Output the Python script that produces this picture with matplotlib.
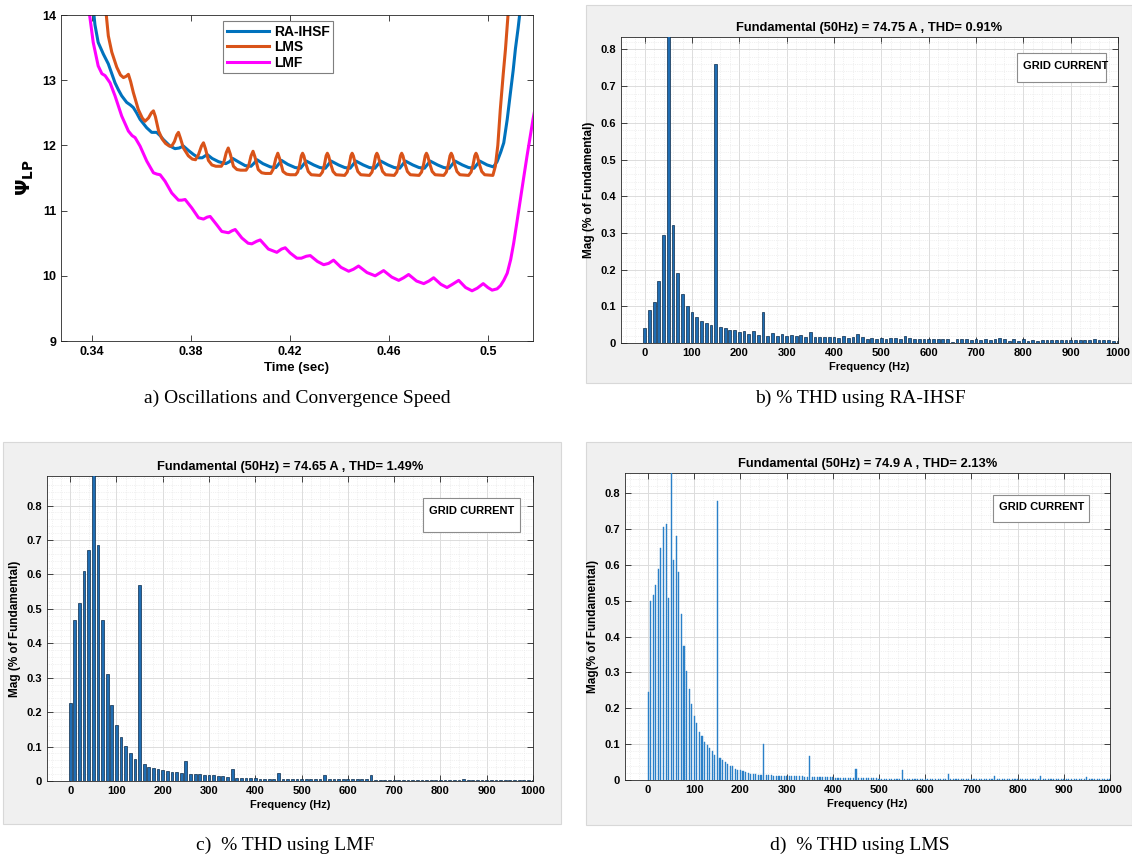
import numpy as np
import matplotlib

matplotlib.use("Agg")
import matplotlib.pyplot as plt
from matplotlib.patches import Rectangle
from matplotlib.ticker import MultipleLocator

plt.rcParams["font.family"] = ["Liberation Sans", "DejaVu Sans"]
plt.rcParams["mathtext.fontset"] = "dejavusans"

# ---- panel a: psi_LP vs time ----
RA_TIME = [0.3400, 0.3412, 0.3425, 0.3446, 0.3466, 0.3480, 0.3493, 0.3507, 0.3520, 0.3540,
           0.3555, 0.3567, 0.3580, 0.3594, 0.3621, 0.3641, 0.3661, 0.3675, 0.3688, 0.3715,
           0.3735, 0.3752, 0.3769, 0.3790, 0.3810, 0.3830, 0.3845, 0.3865, 0.3885, 0.3911,
           0.3940, 0.3955, 0.3968, 0.3990, 0.4018, 0.4042, 0.4055, 0.4066, 0.4090, 0.4120,
           0.4142, 0.4155, 0.4165, 0.4190, 0.4220,
           0.4242, 0.4265, 0.4295, 0.4320, 0.4342, 0.4365, 0.4395, 0.4420,
           0.4442, 0.4465, 0.4495, 0.4520, 0.4542, 0.4565, 0.4595, 0.4620,
           0.4642, 0.4665, 0.4695, 0.4720, 0.4742, 0.4765, 0.4795, 0.4820,
           0.4842, 0.4865, 0.4895, 0.4920, 0.4942, 0.4965, 0.4995, 0.5020,
           0.5035, 0.5050, 0.5062, 0.5076, 0.5089, 0.5100, 0.5109, 0.5120, 0.5135]
RA_PSI = [14.30, 13.85, 13.58, 13.40, 13.25, 13.10, 12.96, 12.85, 12.76, 12.66,
          12.62, 12.58, 12.50, 12.40, 12.27, 12.20, 12.20, 12.15, 12.09, 11.99,
          11.95, 11.96, 11.99, 11.92, 11.86, 11.81, 11.81, 11.86, 11.80, 11.75,
          11.72, 11.75, 11.80, 11.75, 11.69, 11.68, 11.73, 11.78, 11.72, 11.67,
          11.66, 11.72, 11.77, 11.71, 11.66,
          11.65, 11.76, 11.70, 11.66, 11.65, 11.76, 11.70, 11.66,
          11.65, 11.76, 11.70, 11.66, 11.65, 11.76, 11.70, 11.66,
          11.65, 11.76, 11.70, 11.66, 11.65, 11.76, 11.70, 11.66,
          11.65, 11.76, 11.70, 11.66, 11.65, 11.76, 11.70, 11.67,
          11.75, 11.90, 12.04, 12.40, 12.81, 13.15, 13.48, 13.80, 14.30]

LMS_TIME = [0.3450, 0.3466, 0.3480, 0.3500, 0.3515, 0.3527, 0.3538, 0.3547, 0.3556, 0.3567,
            0.3587, 0.3603, 0.3614, 0.3628, 0.3640, 0.3648, 0.3656, 0.3669, 0.3683, 0.3697,
            0.3712, 0.3722, 0.3733, 0.3742, 0.3749, 0.3757, 0.3769, 0.3789, 0.3805, 0.3818,
            0.3830, 0.3842, 0.3850, 0.3858, 0.3870, 0.3884, 0.3900, 0.3922, 0.3932, 0.3942,
            0.3950, 0.3958, 0.3971, 0.3985, 0.4000, 0.4022, 0.4032, 0.4042, 0.4050, 0.4058,
            0.4071, 0.4085, 0.4100, 0.4122, 0.4132, 0.4142, 0.4150, 0.4158, 0.4171, 0.4185,
            0.4200, 0.4222,
            0.4230, 0.4238, 0.4245, 0.4250, 0.4255, 0.4263, 0.4273, 0.4285, 0.4320,
            0.4330, 0.4338, 0.4345, 0.4350, 0.4355, 0.4363, 0.4373, 0.4385, 0.4420,
            0.4430, 0.4438, 0.4445, 0.4450, 0.4455, 0.4463, 0.4473, 0.4485, 0.4520,
            0.4530, 0.4538, 0.4545, 0.4550, 0.4555, 0.4563, 0.4573, 0.4585, 0.4620,
            0.4630, 0.4638, 0.4645, 0.4650, 0.4655, 0.4663, 0.4673, 0.4685, 0.4720,
            0.4730, 0.4738, 0.4745, 0.4750, 0.4755, 0.4763, 0.4773, 0.4785, 0.4820,
            0.4830, 0.4838, 0.4845, 0.4850, 0.4855, 0.4863, 0.4873, 0.4885, 0.4920,
            0.4930, 0.4938, 0.4945, 0.4950, 0.4955, 0.4963, 0.4973, 0.4985, 0.5018,
            0.5028, 0.5038, 0.5048, 0.5060, 0.5069, 0.5085]
LMS_PSI = [14.30, 13.68, 13.43, 13.20, 13.08, 13.04, 13.06, 13.09, 12.98, 12.81,
           12.55, 12.42, 12.37, 12.42, 12.50, 12.53, 12.44, 12.22, 12.10, 12.03,
           11.99, 11.99, 12.06, 12.16, 12.20, 12.11, 11.96, 11.84, 11.79, 11.78,
           11.86, 11.99, 12.04, 11.95, 11.77, 11.70, 11.68, 11.68, 11.74, 11.89,
           11.96, 11.87, 11.68, 11.63, 11.62, 11.62, 11.68, 11.84, 11.91, 11.82,
           11.63, 11.58, 11.57, 11.57, 11.64, 11.80, 11.88, 11.79, 11.60, 11.56,
           11.55, 11.55,
           11.59, 11.70, 11.84, 11.88, 11.84, 11.72, 11.60, 11.55, 11.54,
           11.59, 11.70, 11.84, 11.88, 11.84, 11.72, 11.60, 11.55, 11.54,
           11.59, 11.70, 11.84, 11.88, 11.84, 11.72, 11.60, 11.55, 11.54,
           11.59, 11.70, 11.84, 11.88, 11.84, 11.72, 11.60, 11.55, 11.54,
           11.59, 11.70, 11.84, 11.88, 11.84, 11.72, 11.60, 11.55, 11.54,
           11.59, 11.70, 11.84, 11.88, 11.84, 11.72, 11.60, 11.55, 11.54,
           11.59, 11.70, 11.84, 11.88, 11.84, 11.72, 11.60, 11.55, 11.54,
           11.59, 11.70, 11.84, 11.88, 11.84, 11.72, 11.60, 11.55, 11.54,
           11.68, 12.00, 12.55, 13.10, 13.48, 14.30]

LMF_TIME = [0.3380, 0.3405, 0.3425, 0.3440, 0.3453, 0.3473, 0.3493, 0.3520, 0.3547, 0.3562,
            0.3574, 0.3594, 0.3621, 0.3648, 0.3662, 0.3675, 0.3695, 0.3722, 0.3749, 0.3762,
            0.3776, 0.3803, 0.3830, 0.3850, 0.3865, 0.3877, 0.3904, 0.3924, 0.3951, 0.3965,
            0.3978, 0.4005, 0.4030, 0.4045, 0.4065, 0.4079, 0.4112, 0.4146, 0.4165, 0.4180,
            0.4200, 0.4227, 0.4245, 0.4265, 0.4281, 0.4310, 0.4335, 0.4355, 0.4375, 0.4405,
            0.4436, 0.4455, 0.4476, 0.4510, 0.4543, 0.4560, 0.4577, 0.4610, 0.4638, 0.4658,
            0.4678, 0.4710, 0.4739, 0.4760, 0.4779, 0.4808, 0.4833, 0.4855, 0.4880, 0.4908,
            0.4934, 0.4955, 0.4979, 0.4998, 0.5015, 0.5035, 0.5049, 0.5062, 0.5076, 0.5090,
            0.5102, 0.5115, 0.5129, 0.5143, 0.5156, 0.5168, 0.5180, 0.5195]
LMF_PSI = [14.30, 13.58, 13.22, 13.10, 13.07, 12.96, 12.76, 12.45, 12.22, 12.15,
           12.12, 11.99, 11.76, 11.58, 11.56, 11.55, 11.45, 11.27, 11.16, 11.16,
           11.17, 11.04, 10.89, 10.87, 10.90, 10.91, 10.78, 10.68, 10.66, 10.69,
           10.71, 10.58, 10.50, 10.49, 10.53, 10.55, 10.41, 10.36, 10.41, 10.43,
           10.35, 10.27, 10.27, 10.30, 10.31, 10.22, 10.17, 10.19, 10.24, 10.13,
           10.07, 10.10, 10.15, 10.05, 10.00, 10.04, 10.08, 9.98, 9.93, 9.97,
           10.02, 9.92, 9.88, 9.92, 9.97, 9.87, 9.82, 9.87, 9.93, 9.82,
           9.77, 9.81, 9.88, 9.82, 9.78, 9.80, 9.85, 9.93, 10.04, 10.25,
           10.50, 10.82, 11.17, 11.52, 11.84, 12.12, 12.40, 12.70]

# ---- panels b-d: harmonic spectra (% of fundamental), fundamental = 100 ----
FREQ_10HZ = np.arange(0, 1001, 10)
MAG_RA = [0.040, 0.090, 0.112, 0.170, 0.295, 100.0, 0.321, 0.190, 0.133, 0.100,
          0.084, 0.071, 0.061, 0.055, 0.048, 0.760, 0.044, 0.040, 0.036, 0.036,
          0.030, 0.034, 0.025, 0.033, 0.023, 0.084, 0.019, 0.028, 0.020, 0.025,
          0.018, 0.022, 0.019, 0.021, 0.016, 0.031, 0.016, 0.017, 0.016, 0.016,
          0.016, 0.014, 0.018, 0.014, 0.016, 0.024, 0.015, 0.012, 0.014, 0.012,
          0.014, 0.012, 0.013, 0.013, 0.012, 0.020, 0.013, 0.011, 0.011, 0.011,
          0.012, 0.011, 0.011, 0.011, 0.011, 0.002, 0.010, 0.010, 0.010, 0.009,
          0.011, 0.008, 0.010, 0.009, 0.011, 0.013, 0.010, 0.005, 0.010, 0.006,
          0.011, 0.005, 0.009, 0.006, 0.009, 0.009, 0.009, 0.008, 0.008, 0.008,
          0.008, 0.008, 0.008, 0.007, 0.007, 0.010, 0.007, 0.007, 0.007, 0.006,
          0.006]
MAG_LMF = [0.226, 0.467, 0.516, 0.611, 0.671, 100.0, 0.685, 0.467, 0.310, 0.220,
           0.163, 0.127, 0.101, 0.080, 0.064, 0.569, 0.050, 0.042, 0.039, 0.036,
           0.031, 0.030, 0.027, 0.027, 0.024, 0.058, 0.020, 0.020, 0.019, 0.018,
           0.016, 0.016, 0.015, 0.014, 0.012, 0.036, 0.010, 0.009, 0.009, 0.009,
           0.008, 0.007, 0.007, 0.007, 0.007, 0.022, 0.007, 0.006, 0.006, 0.006,
           0.005, 0.005, 0.005, 0.005, 0.005, 0.017, 0.005, 0.005, 0.005, 0.005,
           0.006, 0.005, 0.005, 0.005, 0.005, 0.017, 0.004, 0.004, 0.003, 0.003,
           0.003, 0.003, 0.003, 0.003, 0.003, 0.004, 0.003, 0.003, 0.003, 0.003,
           0.003, 0.003, 0.003, 0.003, 0.003, 0.006, 0.003, 0.003, 0.003, 0.003,
           0.003, 0.003, 0.003, 0.003, 0.003, 0.003, 0.003, 0.003, 0.003, 0.003,
           0.003]
FREQ_LMS = np.arange(181) * 50 / 9  # 0.18 s window -> 5.56 Hz bins
MAG_LMS = [0.246, 0.498, 0.516, 0.544, 0.588, 0.646, 0.705, 0.713, 0.507, 100.0,
           0.614, 0.679, 0.579, 0.463, 0.374, 0.303, 0.253, 0.212, 0.179, 0.158,
           0.135, 0.124, 0.107, 0.098, 0.089, 0.080, 0.071, 0.777, 0.062, 0.057,
           0.050, 0.045, 0.040, 0.038, 0.032, 0.029, 0.027, 0.024, 0.021, 0.019,
           0.018, 0.017, 0.016, 0.015, 0.014, 0.099, 0.013, 0.013, 0.013, 0.012,
           0.012, 0.012, 0.012, 0.011, 0.011, 0.011, 0.011, 0.010, 0.010, 0.010,
           0.010, 0.009, 0.009, 0.067, 0.009, 0.008, 0.008, 0.008, 0.008, 0.007,
           0.007, 0.007, 0.007, 0.006, 0.006, 0.006, 0.006, 0.006, 0.006, 0.005,
           0.005, 0.030, 0.005, 0.005, 0.005, 0.005, 0.005, 0.005, 0.005, 0.005,
           0.004, 0.004, 0.004, 0.004, 0.004, 0.004, 0.004, 0.004, 0.004, 0.027,
           0.004, 0.004, 0.004, 0.004, 0.004, 0.003, 0.003, 0.003, 0.003, 0.003,
           0.003, 0.003, 0.003, 0.003, 0.003, 0.003, 0.003, 0.018, 0.003, 0.003,
           0.003, 0.003, 0.003, 0.003, 0.003, 0.003, 0.002, 0.002, 0.002, 0.002,
           0.002, 0.002, 0.002, 0.002, 0.002, 0.012, 0.002, 0.002, 0.002, 0.002,
           0.002, 0.002, 0.002, 0.002, 0.002, 0.002, 0.002, 0.002, 0.002, 0.002,
           0.002, 0.002, 0.002, 0.012, 0.002, 0.002, 0.002, 0.002, 0.002, 0.002,
           0.002, 0.002, 0.002, 0.002, 0.002, 0.002, 0.002, 0.002, 0.002, 0.002,
           0.002, 0.007, 0.002, 0.002, 0.002, 0.002, 0.002, 0.002, 0.002, 0.002,
           0.002]

W, H = 1132, 859
SERIF = ["Liberation Serif", "DejaVu Serif"]


def px_axes(fig, x0, x1, y0, y1):
    return fig.add_axes([x0 / W, 1 - y1 / H, (x1 - x0) / W, (y1 - y0) / H])


def gray_panel(fig, x0, x1, y0, y1):
    fig.patches.append(Rectangle((x0 / W, 1 - y1 / H), (x1 - x0) / W, (y1 - y0) / H,
                                 transform=fig.transFigure, facecolor="#f0f0f0",
                                 edgecolor="#d8d8d8", linewidth=0.8, zorder=-5))


def caption(fig, x, y, s):
    fig.text(x / W, 1 - y / H, s, family=SERIF, fontsize=14, ha="center", va="center")


def style_box(ax, size=8.5):
    for sp in ax.spines.values():
        sp.set_color("#262626")
        sp.set_linewidth(0.6)
    ax.tick_params(direction="in", top=True, right=True, length=4, width=0.6,
                   labelsize=size, colors="#262626")
    for lbl in ax.get_xticklabels() + ax.get_yticklabels():
        lbl.set_fontweight("bold")
        lbl.set_color("black")


def thd_panel(ax, freq, mag, width, color, edge, lw, ytop, title, ylabel, box):
    ax.bar(freq, mag, width=width, color=color, edgecolor=edge, linewidth=lw, zorder=3)
    ax.set_xlim(-50, 1000)
    ax.set_ylim(0, ytop)
    ax.set_xticks(range(0, 1001, 100))
    ax.set_yticks(np.arange(0, 0.81, 0.1))
    ax.set_yticklabels(["0"] + [f"{v:.1f}" for v in np.arange(0.1, 0.81, 0.1)])
    ax.xaxis.set_minor_locator(MultipleLocator(20))
    ax.yaxis.set_minor_locator(MultipleLocator(0.02))
    ax.grid(which="major", color="#dcdcdc", linewidth=0.7, zorder=0)
    ax.grid(which="minor", color="#e4e4e4", linewidth=0.5, linestyle=":", zorder=0)
    ax.tick_params(which="minor", length=0)
    ax.set_axisbelow(True)
    style_box(ax, size=8)
    ax.set_title(title, fontsize=9.3, fontweight="bold", pad=4)
    ax.set_xlabel("Frequency (Hz)", fontsize=8, fontweight="bold", labelpad=3)
    ax.set_ylabel(ylabel, fontsize=8.5, fontweight="bold", labelpad=4)
    bx0, bx1, by0, by1, ty = box
    ax.add_patch(Rectangle((bx0, by0), bx1 - bx0, by1 - by0, transform=ax.transAxes,
                           facecolor="white", edgecolor="#8c8c8c", linewidth=0.8, zorder=5))
    ax.text(bx0 + 0.012, ty, "GRID CURRENT", transform=ax.transAxes, fontsize=8,
            fontweight="bold", va="center", ha="left", zorder=6)


fig = plt.figure(figsize=(W / 100, H / 100), dpi=100)
fig.patch.set_facecolor("white")

gray_panel(fig, 586, 1132, 5, 383)
gray_panel(fig, 3, 561, 442, 824)
gray_panel(fig, 586, 1132, 442, 825)

# panel a
ax = px_axes(fig, 61, 533, 15, 341)
ax.plot(RA_TIME, RA_PSI, color="#0072bd", linewidth=2.2, label="RA-IHSF")
ax.plot(LMS_TIME, LMS_PSI, color="#d95319", linewidth=2.2, label="LMS")
ax.plot(LMF_TIME, LMF_PSI, color="#ff00ff", linewidth=2.2, label="LMF")
ax.set_xlim(0.3275, 0.518)
ax.set_ylim(9, 14)
ax.set_xticks([0.34, 0.38, 0.42, 0.46, 0.5])
ax.set_xticklabels(["0.34", "0.38", "0.42", "0.46", "0.5"])
ax.set_yticks(range(9, 15))
style_box(ax, size=9)
ax.set_xlabel("Time (sec)", fontsize=9.5, fontweight="bold", labelpad=3)
ax.set_ylabel(r"$\mathbf{\Psi}_{\mathbf{LP}}$", fontsize=14, labelpad=4)
leg = ax.legend(loc="upper left", bbox_to_anchor=(0.344, 0.981), borderaxespad=0,
                prop=dict(weight="bold", size=10),
                handlelength=3.0, borderpad=0.25, labelspacing=0.12, handletextpad=0.4,
                fancybox=False, framealpha=1)
leg.get_frame().set_edgecolor("#7f7f7f")
leg.get_frame().set_linewidth(0.8)

# panel b
ax = px_axes(fig, 621, 1118, 37, 343)
thd_panel(ax, FREQ_10HZ, MAG_RA, 6, "#1f6db3", "#0b2b4a", 0.5, 0.834,
          "Fundamental (50Hz) = 74.75 A , THD= 0.91%", "Mag (% of Fundamental)",
          (0.797, 0.976, 0.853, 0.948, 0.905))

# panel c
ax = px_axes(fig, 47, 533, 476, 781)
thd_panel(ax, FREQ_10HZ, MAG_LMF, 6, "#1f6db3", "#0b2b4a", 0.5, 0.886,
          "Fundamental (50Hz) = 74.65 A , THD= 1.49%", "Mag (% of Fundamental)",
          (0.774, 0.973, 0.816, 0.928, 0.885))

# panel d
ax = px_axes(fig, 625, 1110, 473, 780)
thd_panel(ax, FREQ_LMS, MAG_LMS, 2.4, "#2a80c8", "#2a80c8", 0.3, 0.856,
          "Fundamental (50Hz) = 74.9 A , THD= 2.13%", "Mag(% of Fundamental)",
          (0.759, 0.957, 0.840, 0.928, 0.889))

caption(fig, 297, 398, "a) Oscillations and Convergence Speed")
caption(fig, 860, 398, "b) % THD using RA-IHSF")
caption(fig, 285, 845, "c)  % THD using LMF")
caption(fig, 860, 845, "d)  % THD using LMS")

fig.savefig("out.png", dpi=100)
